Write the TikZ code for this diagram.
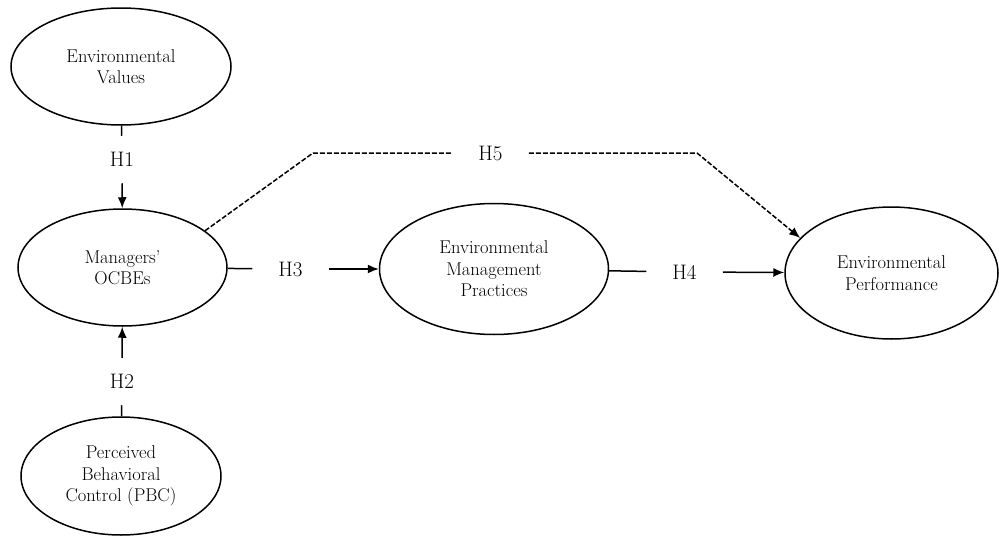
\documentclass[tikz,border=0pt]{standalone}
\usetikzlibrary{shapes.geometric,arrows.meta}

\tikzset{
  construct/.style={ellipse, draw, line width=1.5pt, inner sep=0pt, align=center,
    font=\fontsize{18.5}{21.5}\selectfont},
  hyp/.style={inner sep=0pt, font=\fontsize{21}{24}\selectfont},
  hvert/.style={hyp, minimum height=46pt},
  hhor/.style={hyp, minimum width=75pt},
  arr/.style={-{Latex[length=11pt,width=9pt]}},
}

\begin{document}
\begin{tikzpicture}[x=1pt, y=-1pt, line width=1.5pt]
  \useasboundingbox (0,0) rectangle (999,538);

  \node[construct, minimum width=220pt, minimum height=117pt] (ev) at (121,66.5)
    {Environmental\\Values};
  \node[construct, minimum width=209pt, minimum height=117pt] (ocbe) at (122.5,267.5)
    {Managers'\\OCBEs};
  \node[construct, minimum width=200pt, minimum height=118pt] (pbc) at (121,476)
    {Perceived\\Behavioral\\Control (PBC)};
  \node[construct, minimum width=229pt, minimum height=131pt] (emp) at (494,269)
    {Environmental\\Management\\Practices};
  \node[construct, minimum width=213pt, minimum height=132pt] (ep) at (891.5,273)
    {Environmental\\Performance};

  \foreach \n/\x/\y in {1/122/159.5, 2/122/381.5} {
    \node[hvert] (h\n) at (\x,\y) {H\n};
  }
  \foreach \n/\x/\y in {3/290.5/269, 4/684.5/272, 5/490.5/153} {
    \node[hhor] (h\n) at (\x,\y) {H\n};
  }

  \coordinate (k1) at (313,153);
  \coordinate (k2) at (697,153);

  \draw[-] (ev) -- (h1);
  \draw[arr] (h1) -- (ocbe);

  \draw[-] (pbc) -- (h2);
  \draw[arr] (h2) -- (ocbe);

  \draw[-] (ocbe) -- (h3);
  \draw[arr] (h3) -- (emp);

  \draw[-] (emp) -- (h4);
  \draw[arr] (h4) -- (ep);

  \draw[dash pattern=on 5pt off 2pt] (ocbe.24) -- (k1) -- (h5);
  \draw[arr, dash pattern=on 5pt off 2pt] (h5) -- (k2) -- (ep.159);

\end{tikzpicture}
\end{document}
